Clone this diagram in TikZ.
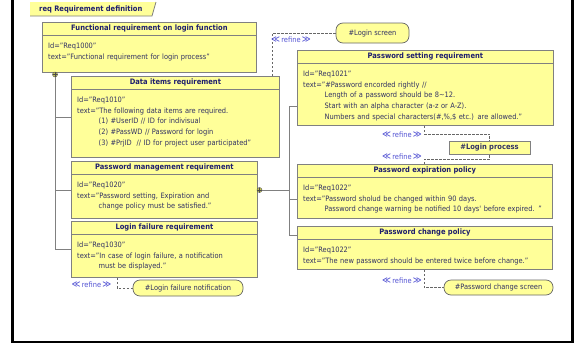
\documentclass[tikz,border=0pt]{standalone}
\usepackage{fontspec}
\setmainfont{DejaVu Sans Condensed}
\usetikzlibrary{calc}
\definecolor{reqfill}{RGB}{255,255,153}
\definecolor{reqline}{RGB}{128,128,128}
\definecolor{reqhead}{RGB}{30,30,110}
\definecolor{reqtext}{RGB}{50,50,100}
\definecolor{refblue}{RGB}{80,80,210}
\definecolor{plusfill}{RGB}{200,200,90}
\tikzset{
 reqbox/.style={draw=reqline, fill=reqfill, line width=0.8pt, inner sep=0pt, anchor=north west},
 reqtitle/.style={font=\fontsize{7.5}{9}\selectfont\bfseries, text=reqhead, inner sep=0pt},
 reqbody/.style={font=\fontsize{7.4}{10.7}\selectfont, text=reqtext, inner sep=0pt, align=left, text width=270pt, anchor=base west},
 usecase/.style={draw=reqline!80!black, fill=reqfill, rounded corners=7pt, inner sep=0pt, line width=0.7pt, font=\fontsize{7.4}{9}\selectfont, text=reqtext},
 procbox/.style={draw=reqline, fill=reqfill, inner sep=0pt, line width=0.8pt, font=\fontsize{7.5}{9}\selectfont\bfseries, text=reqtext},
 refl/.style={font=\fontsize{7.4}{9}\selectfont, text=refblue, inner sep=0pt},
 refline/.style={draw=black!60, dash pattern=on 2.5pt off 1.5pt, line width=0.6pt},
 tree/.style={draw=reqline, line width=0.8pt},
 cplus/.style={circle, draw=black!70, fill=plusfill, minimum size=5pt, inner sep=0pt, line width=0.4pt,
   path picture={\draw[black!70, line width=0.4pt] (path picture bounding box.north) -- (path picture bounding box.south) (path picture bounding box.west) -- (path picture bounding box.east);}}
}
\newcommand\mkreq[7]{%
 \node[reqbox, minimum width={(#4-#2)*1pt}, minimum height={(#5-#3)*1pt}] (#1) at (#2,#3) {};
 \draw[reqline, line width=0.8pt] ($(#1.north west)+(0,13)$) -- ($(#1.north east)+(0,13)$);
 \node[reqtitle] (#1-t) at ($(#1.north)+(0,6.5)$) {#6};
 \node[reqbody] (#1-b) at ($(#1.north west)+(6,26.5)$) {#7};
}
\newcommand\ind{\hspace*{21.5pt}}
\newcommand\refine{{\fontsize{9.5}{9}\selectfont ≪}\,refine\,{\fontsize{9.5}{9}\selectfont ≫}}
\begin{document}
\begin{tikzpicture}[x=1pt,y=-1pt]
\useasboundingbox (0,0) rectangle (575,343);
% frame
\fill[black] (11,0) rectangle (14,343);
\fill[black] (11,341) rectangle (574,343);
\fill[black] (571,0) rectangle (574,343);
% title tab
\fill[reqfill] (30,2) -- (156,2) -- (152,16) -- (30,16) -- cycle;
\draw[reqline, line width=0.8pt] (156,2) -- (152,16) -- (30,16);
\node[font=\fontsize{7.5}{9}\selectfont\bfseries, text=reqhead, inner sep=0pt, anchor=west] (title) at (39,9.5) {req Requirement definition};
% requirement boxes
\mkreq{func}{42}{22}{256}{72}{Functional requirement on login function}{Id="Req1000"\\text="Functional requirement for login process"}
\mkreq{data}{71}{76}{279}{157}{Data items requirement}{Id="Req1010"\\text="The following data items are required.\\\ind(1) \#UserID // ID for indivisual\\\ind(2) \#PassWD // Password for login\\\ind(3) \#PrjID\ \ // ID for project user participated"}
\mkreq{mgmt}{71}{161}{257}{218}{Password management requirement}{Id="Req1020"\\text="Password setting, Expiration and\\\ind change policy must be satisfied."}
\mkreq{lfail}{71}{221}{257}{277}{Login failure requirement}{Id="Req1030"\\text="In case of login failure, a notification\\\ind must be displayed."}
\mkreq{setting}{297}{50}{553}{125}{Password setting requirement}{Id="Req1021"\\text="\#Password encorded rightly //\\\ind Length of a password should be 8\textasciitilde12.\\\ind Start with an alpha character (a-z or A-Z).\\\ind Numbers and special characters(\#,\%,\$ etc.) are allowed."}
\mkreq{exp}{297}{164}{552}{218}{Password expiration policy}{Id="Req1022"\\text="Password sholud be changed within 90 days.\\\ind Password change warning be notified 10 days\textquotesingle\ before expired. "}
\mkreq{change}{297}{226}{552}{269}{Password change policy}{Id="Req1022"\\text="The new password should be entered twice before change."}
% other nodes
\node[usecase, minimum width=73pt, minimum height=20pt] (lscreen) at (372.5,33) {\#Login screen};
\node[procbox, minimum width=81pt, minimum height=13pt] (lproc) at (489.5,147.5) {\#Login process};
\node[usecase, minimum width=110pt, minimum height=16pt] (lfn) at (188,288) {\#Login failure notification};
\node[usecase, minimum width=109pt, minimum height=15pt] (pcs) at (498.5,287.5) {\#Password change screen};
% containment
\node[cplus] (cp1) at (55,74.5) {};
\node[cplus] (cp2) at (259.5,190) {};
\draw[tree] (cp1.south) |- (data.west);
\draw[tree] (cp1.south) |- (mgmt.west);
\draw[tree] (cp1.south) |- (lfail.west);
\coordinate (jr) at (289,190);
\coordinate (ys) at (0,106);
\coordinate (ye) at (0,199);
\coordinate (yc) at (0,235);
\draw[tree] (cp2.east) -- (jr);
\draw[tree] (jr) |- (setting.west |- ys);
\draw[tree] (jr) |- (exp.west |- ye);
\draw[tree] (jr) |- (change.west |- yc);
% refine
\coordinate (xr1) at (272,0);
\coordinate (xr2) at (424,0);
\coordinate (xr4) at (117,0);
\draw[refline] (data.north -| xr1) |- (lscreen.west);
\draw[refline] (setting.south -| xr2) -- ++(0,8) -| (lproc.north);
\draw[refline] (exp.north -| xr2) -- ++(0,-5) -| (lproc.south);
\draw[refline] (lfail.south -| xr4) |- (lfn.west);
\draw[refline] (change.south -| xr2) |- (pcs.west);
\node[refl] (r1) at (291,40) {\refine};
\node[refl] (r2) at (402,135) {\refine};
\node[refl] (r3) at (402,157) {\refine};
\node[refl] (r4) at (91.5,285) {\refine};
\node[refl] (r5) at (402,281) {\refine};
\end{tikzpicture}
\end{document}
